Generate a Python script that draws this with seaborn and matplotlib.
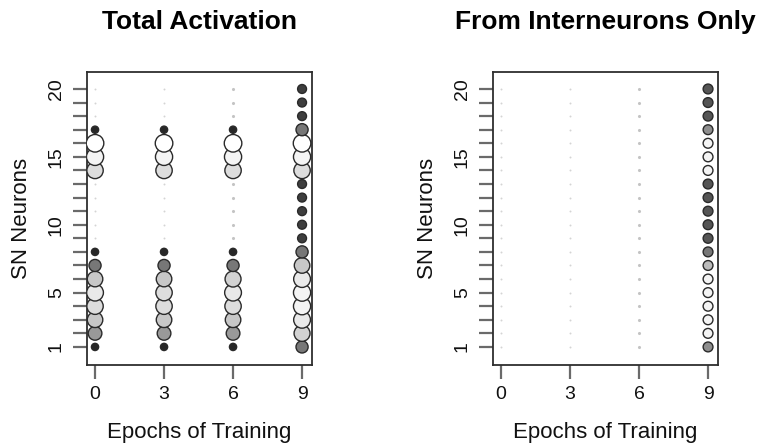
import numpy as np
import pandas as pd
import matplotlib
matplotlib.use("Agg")
import matplotlib.pyplot as plt
import seaborn as sns
from matplotlib.colors import LinearSegmentedColormap
from matplotlib.ticker import FixedLocator

epochs = [0, 3, 6, 9]
neurons = list(range(1, 21))

# total activation of SN neurons 1..20 at each epoch (0 = silent)
total_e0 = [0.05, 0.55, 0.75, 0.85, 0.9, 0.75, 0.4, 0.05, 0, 0, 0, 0, 0, 0.85, 0.95, 1.0, 0.05, 0, 0, 0]
total_e3 = [0.05, 0.55, 0.75, 0.85, 0.85, 0.75, 0.4, 0.05, 0, 0, 0, 0, 0, 0.85, 0.95, 1.0, 0.05, 0, 0, 0]
total_e6 = [0.05, 0.55, 0.75, 0.85, 0.9, 0.8, 0.4, 0.05, 0, 0, 0, 0, 0, 0.85, 0.95, 1.0, 0.05, 0, 0, 0]
total_e9 = [0.4, 0.8, 0.9, 0.95, 0.95, 0.9, 0.75, 0.4, 0.15, 0.15, 0.15, 0.15, 0.15, 0.85, 0.95, 1.0, 0.4, 0.15, 0.15, 0.15]

# activation coming from interneurons only (present at epoch 9)
inter_e9 = [0.5, 0.95, 0.95, 0.95, 0.95, 0.95, 0.7, 0.4, 0.25, 0.25, 0.25, 0.25, 0.25, 0.95, 0.95, 0.95, 0.5, 0.25, 0.25, 0.25]

total = pd.DataFrame({
    "epoch": np.repeat(epochs, len(neurons)),
    "neuron": neurons * len(epochs),
    "act": total_e0 + total_e3 + total_e6 + total_e9,
})
inter = pd.DataFrame({"epoch": [9] * len(neurons), "neuron": neurons, "act": inter_e9})
grid = pd.DataFrame({"epoch": np.repeat(epochs, len(neurons)), "neuron": neurons * len(epochs)})

sns.set_theme(style="white")
plt.rcParams["font.family"] = ["Liberation Sans", "DejaVu Sans"]

greys = LinearSegmentedColormap.from_list("g", ["#1c1c1c", "#ffffff"])

fig = plt.figure(figsize=(7.59, 4.45), dpi=100)
ax1 = fig.add_axes([0.1146, 0.1798, 0.2964, 0.6584])
ax2 = fig.add_axes([0.6495, 0.1798, 0.2964, 0.6584])


def background(ax):
    g = grid[grid["epoch"] != 6]
    sns.scatterplot(data=g, x="epoch", y="neuron", s=2, color="#d4d4d4",
                    linewidth=0, ax=ax, zorder=1, legend=False)
    g6 = grid[grid["epoch"] == 6]
    sns.scatterplot(data=g6, x="epoch", y="neuron", s=5, color="#c4c4c4",
                    linewidth=0, ax=ax, zorder=1, legend=False)


background(ax1)
sns.scatterplot(data=total[total["act"] > 0], x="epoch", y="neuron",
                hue="act", hue_norm=(0, 1), palette=greys,
                size="act", size_norm=(0, 1), sizes=(20, 160),
                edgecolor="#2a2a2a", linewidth=1.0, ax=ax1, zorder=3, legend=False)

background(ax2)
sns.scatterplot(data=inter, x="epoch", y="neuron",
                hue="act", hue_norm=(0, 1), palette=greys, s=50,
                edgecolor="#2a2a2a", linewidth=1.0, ax=ax2, zorder=3, legend=False)

titles = ["Total Activation", "From Interneurons Only"]
for ax, t in zip([ax1, ax2], titles):
    ax.set_xlim(-0.35, 9.43)
    ax.set_ylim(-0.33, 21.25)
    ax.set_xticks(epochs)
    ax.set_xticklabels([str(e) for e in epochs])
    ax.set_yticks([1, 5, 10, 15, 20])
    ax.set_yticklabels(["1", "5", "10", "15", "20"], rotation=90, va="center")
    ax.yaxis.set_minor_locator(FixedLocator([n for n in neurons if n not in (1, 5, 10, 15, 20)]))
    ax.tick_params(axis="both", which="both", direction="out", length=10, width=1.6,
                   color="#6a6a6a", labelsize=14, labelcolor="#111111")
    ax.tick_params(axis="y", which="both", left=True, pad=6)
    ax.tick_params(axis="x", which="both", bottom=True, pad=5)
    for sp in ax.spines.values():
        sp.set_visible(True)
        sp.set_color("#2e2e2e")
        sp.set_linewidth(1.3)
    ax.set_xlabel("Epochs of Training", fontsize=16, color="#111111", va="center")
    ax.xaxis.set_label_coords(0.5, -0.229)
    ax.set_ylabel("SN Neurons", fontsize=16, color="#111111", va="center")
    ax.yaxis.set_label_coords(-0.29, 0.5)
    ax.set_title(t, fontsize=19, fontweight="bold", color="#000000",
                 y=1.171, va="center", pad=0)
    ax.grid(False)

fig.savefig("out.png", dpi=100)
